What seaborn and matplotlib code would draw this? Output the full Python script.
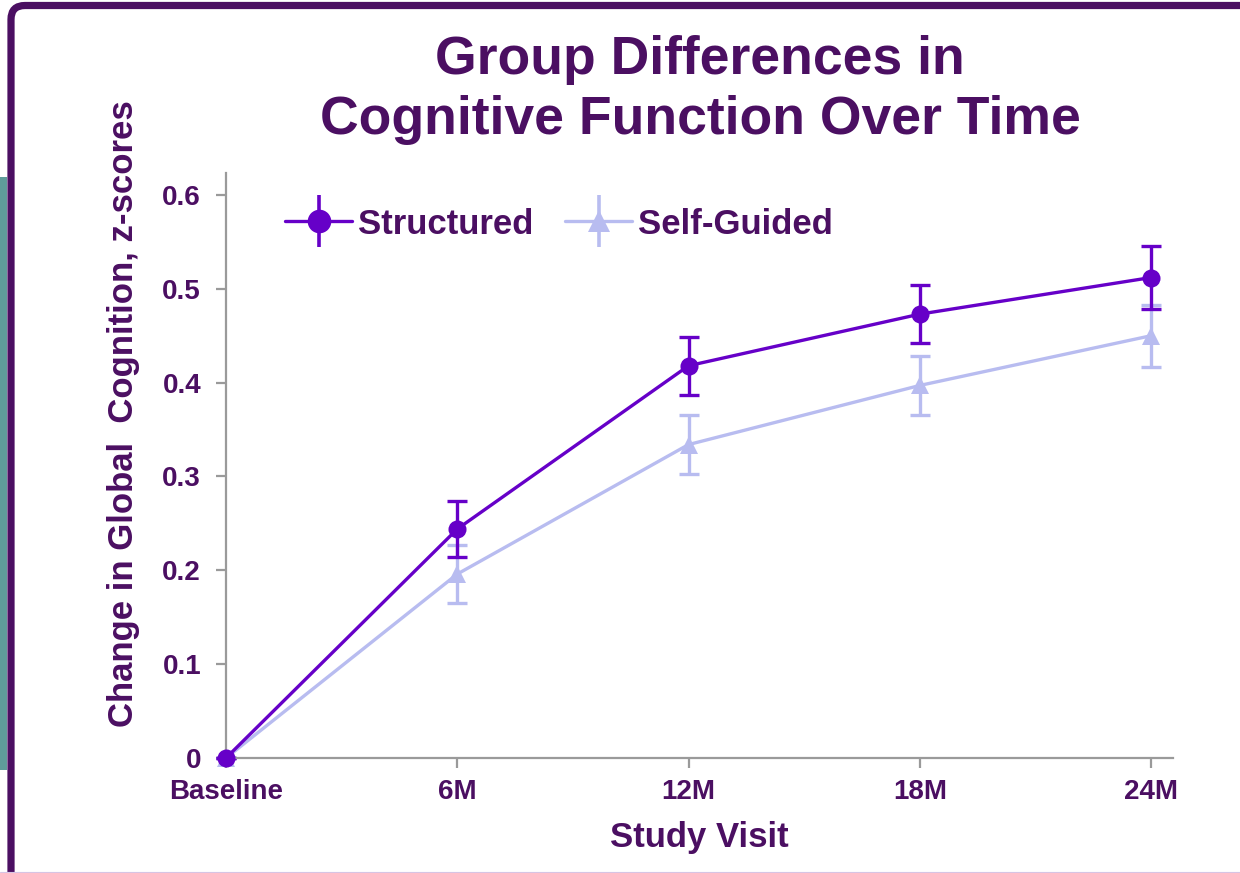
import matplotlib
matplotlib.use("Agg")
import matplotlib.pyplot as plt
from matplotlib.lines import Line2D
from matplotlib.patches import FancyBboxPatch, Rectangle
from matplotlib.legend_handler import HandlerTuple
from matplotlib.transforms import IdentityTransform
import seaborn as sns
import pandas as pd

# ---- data ----
visits = ["Baseline", "6M", "12M", "18M", "24M"]
structured = [0.0, 0.244, 0.418, 0.473, 0.512]
structured_err = [0.0, 0.030, 0.031, 0.031, 0.034]
self_guided = [0.0, 0.196, 0.334, 0.397, 0.450]
self_guided_err = [0.0, 0.031, 0.031, 0.031, 0.033]
groups = ["Structured", "Self-Guided"]
y_ticks = [0, 0.1, 0.2, 0.3, 0.4, 0.5, 0.6]
y_ticklabels = ["0", "0.1", "0.2", "0.3", "0.4", "0.5", "0.6"]

# ---- style ----
DARK = "#4b0f62"
C_STRUCT = "#6600c8"
C_SELF = "#b8bcf0"
GRAY = "#9a9a9a"

sns.set_theme(style="white")
plt.rcParams["font.family"] = ["Liberation Sans", "DejaVu Sans"]
plt.rcParams["font.weight"] = "bold"

pos = list(range(len(visits)))
df = pd.DataFrame({
    "pos": pos * 2,
    "value": self_guided + structured,
    "group": ["Self-Guided"] * len(visits) + ["Structured"] * len(visits),
})

fig = plt.figure(figsize=(12.4, 8.73), dpi=100)
ax = fig.add_axes([226 / 1240, 1 - 758 / 873, (1173 - 226) / 1240, (758 - 173) / 873])

palette = {"Structured": C_STRUCT, "Self-Guided": C_SELF}
markers = {"Structured": "o", "Self-Guided": "^"}

sns.lineplot(data=df, x="pos", y="value", hue="group", style="group",
             hue_order=["Self-Guided", "Structured"],
             palette=palette, markers=markers, dashes=False,
             linewidth=2.4, markersize=13, markeredgewidth=0,
             legend=False, ax=ax)

# error bars
ax.errorbar(pos, self_guided, yerr=self_guided_err, fmt="none",
            ecolor=C_SELF, elinewidth=2.4, capsize=7, capthick=2.4, zorder=1.5)
ax.errorbar(pos, structured, yerr=structured_err, fmt="none",
            ecolor=C_STRUCT, elinewidth=2.4, capsize=7, capthick=2.4, zorder=2.5)
for ln in ax.lines:
    ln.set_clip_on(False)
    if ln.get_color() == C_STRUCT:
        ln.set_zorder(3)
for coll in ax.collections:
    coll.set_clip_on(False)

ax.set_xlim(0, 4.095)
ax.set_ylim(0, 0.6234)
ax.set_xticks(pos)
ax.set_xticklabels(visits)
ax.set_yticks(y_ticks)
ax.set_yticklabels(y_ticklabels)

sns.despine(ax=ax)
for s in ["left", "bottom"]:
    ax.spines[s].set_color(GRAY)
    ax.spines[s].set_linewidth(1.6)

ax.tick_params(axis="both", which="both", direction="out", length=7, width=1.6,
               color=GRAY, labelcolor=DARK, labelsize=20)
ax.tick_params(axis="y", pad=11)
ax.tick_params(axis="x", pad=8)
ax.tick_params(axis="both", left=True, bottom=True)
for t in ax.get_xticklabels() + ax.get_yticklabels():
    t.set_fontweight("bold")

ax.set_xlabel("Study Visit", fontsize=25, fontweight="bold", color=DARK, labelpad=12)
ax.set_ylabel("Change in Global  Cognition, z-scores", fontsize=25,
              fontweight="bold", color=DARK)
ax.yaxis.set_label_coords((140 - 226) / 947, (758 - 414) / 585)

# title
fig.text(700 / 1240, 1 - 90 / 873, "Group Differences in\nCognitive Function Over Time",
         ha="center", va="center", fontsize=38.5, fontweight="bold", color=DARK,
         linespacing=1.25)

# legend
def handle(color, marker, msize):
    line = Line2D([], [], color=color, linewidth=2.4, marker=marker,
                  markersize=msize, markeredgewidth=0)
    vbar = Line2D([], [], color=color, linestyle="none", marker="|",
                  markersize=38, markeredgewidth=2.6)
    return (line, vbar)

leg = ax.legend([handle(C_STRUCT, "o", 17), handle(C_SELF, "^", 16)], groups,
                handler_map={tuple: HandlerTuple(ndivide=1, pad=0)},
                loc="center left", bbox_to_anchor=(285 / 1240, 1 - 224 / 873),
                bbox_transform=fig.transFigure, ncol=2, frameon=False,
                borderpad=0, borderaxespad=0, handlelength=1.93,
                handletextpad=0.17, columnspacing=0.92,
                prop={"size": 25, "weight": "bold"})
for txt in leg.get_texts():
    txt.set_color(DARK)

# decorative frame
fig.patches.append(Rectangle((0, 1 - 770 / 873), 7 / 1240, (770 - 177) / 873,
                             transform=fig.transFigure, facecolor="#5f9c9a",
                             edgecolor="none", zorder=0))
frame = FancyBboxPatch((11, -60), 1400, 873 - 5.5 + 60,
                       boxstyle="round,pad=0,rounding_size=14",
                       transform=IdentityTransform(), facecolor="none",
                       edgecolor=DARK, linewidth=5.2, zorder=1)
fig.patches.append(frame)
fig.add_artist(Line2D([0, 1], [0.6 / 873, 0.6 / 873], transform=fig.transFigure,
                      color="#d6c4e4", linewidth=0.8))

fig.savefig("out.png", dpi=100, facecolor="white")
